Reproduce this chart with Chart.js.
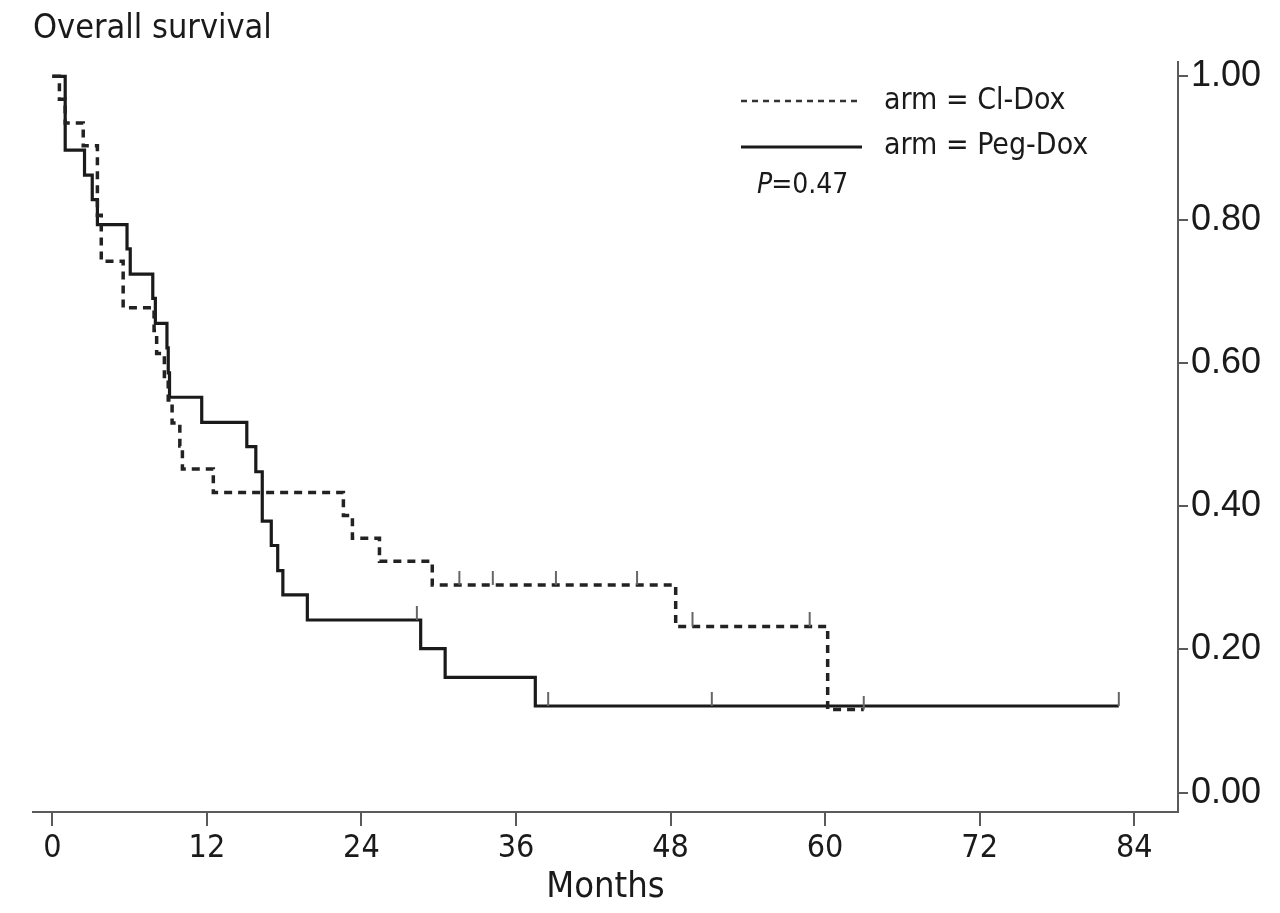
<!DOCTYPE html>
<html><head><meta charset="utf-8">
<script src="https://cdn.jsdelivr.net/npm/chart.js@4.4.1/dist/chart.umd.min.js"></script>
<style>html,body{margin:0;padding:0;background:#fff}#wrap{width:1280px;height:913px;position:relative}</style>
</head><body><div id="wrap"><canvas id="c" width="1280" height="913" style="width:1280px;height:913px"></canvas></div>
<script>
const chartTitle = "Overall survival";
const xAxisTitle = "Months";
const legendLabels = ["arm = Cl-Dox", "arm = Peg-Dox"];
const pValueLabel = ["P", "=0.47"];
const xTicks = [0, 12, 24, 36, 48, 60, 72, 84];
const yTicks = [0, 0.2, 0.4, 0.6, 0.8, 1.0];

const clDoxTimes = [0, 0.55, 1.0, 2.4, 3.5, 3.8, 5.5, 7.9, 8.1, 8.7, 9.0, 9.3, 9.9, 10.1, 12.5, 22.6, 23.3, 25.4, 29.5, 48.4, 60.2, 63.0];
const clDoxSurv  = [1, 0.968, 0.935, 0.903, 0.806, 0.742, 0.677, 0.645, 0.613, 0.581, 0.548, 0.516, 0.484, 0.452, 0.419, 0.387, 0.355, 0.323, 0.290, 0.232, 0.116, 0.116];
const clDoxCensorTimes = [31.6, 34.2, 39.1, 45.4, 49.7, 58.8, 63.0];
const clDoxCensorSurv  = [0.290, 0.290, 0.290, 0.290, 0.232, 0.232, 0.116];

const pegDoxTimes = [0, 1.0, 2.5, 3.1, 3.5, 5.8, 6.05, 7.8, 8.0, 8.9, 9.0, 9.1, 11.6, 15.1, 15.8, 16.3, 17.0, 17.5, 17.9, 19.8, 28.6, 30.5, 37.5, 82.8];
const pegDoxSurv  = [1, 0.897, 0.862, 0.828, 0.793, 0.759, 0.724, 0.690, 0.655, 0.621, 0.586, 0.552, 0.517, 0.483, 0.448, 0.379, 0.345, 0.310, 0.276, 0.241, 0.201, 0.161, 0.121, 0.121];
const pegDoxCensorTimes = [28.3, 38.5, 51.2, 82.8];
const pegDoxCensorSurv  = [0.241, 0.121, 0.121, 0.121];

const NARROW = "'DejaVu Sans Condensed', 'Liberation Sans Narrow', 'Liberation Sans', sans-serif";
const REG = "'Liberation Sans', Arial, sans-serif";
const INK = '#1a1a1a';
const AXIS = '#5a5a5a';

function pts(xs, ys) { return xs.map((x, i) => ({ x: x, y: ys[i] })); }
function censorMark(color) {
  const c = document.createElement('canvas');
  c.width = 4; c.height = 28;
  const g = c.getContext('2d');
  g.strokeStyle = color; g.lineWidth = 2;
  g.beginPath(); g.moveTo(2, 0); g.lineTo(2, 14); g.stroke();
  return c;
}
const mark = censorMark('#666');

const overlay = {
  id: 'overlay',
  afterDraw(chart) {
    const ctx = chart.ctx;
    ctx.save();
    ctx.fillStyle = INK;
    ctx.textBaseline = 'middle';
    ctx.textAlign = 'left';
    ctx.font = "34px " + NARROW;
    ctx.fillText(chartTitle, 33, 29);
    // legend
    ctx.strokeStyle = '#333';
    ctx.lineWidth = 2.5;
    ctx.setLineDash([6, 5]);
    ctx.beginPath(); ctx.moveTo(741, 101); ctx.lineTo(862, 101); ctx.stroke();
    ctx.setLineDash([]);
    ctx.strokeStyle = INK;
    ctx.lineWidth = 3;
    ctx.beginPath(); ctx.moveTo(741, 147); ctx.lineTo(862, 147); ctx.stroke();
    ctx.font = "30px " + NARROW;
    ctx.fillText(legendLabels[0], 884, 101);
    ctx.fillText(legendLabels[1], 884, 146);
    ctx.font = "italic 28px " + NARROW;
    ctx.fillText(pValueLabel[0], 757, 186);
    const w = ctx.measureText(pValueLabel[0]).width;
    ctx.font = "28px " + NARROW;
    ctx.fillText(pValueLabel[1], 757 + w - 1, 186);
    ctx.restore();
  }
};

new Chart(document.getElementById('c'), {
  type: 'line',
  data: {
    datasets: [
      { label: 'Cl-Dox censored', data: pts(clDoxCensorTimes, clDoxCensorSurv), showLine: false, pointStyle: mark, pointRadius: 14, borderWidth: 0 },
      { label: 'Peg-Dox censored', data: pts(pegDoxCensorTimes, pegDoxCensorSurv), showLine: false, pointStyle: mark, pointRadius: 14, borderWidth: 0 },
      { label: legendLabels[0], data: pts(clDoxTimes, clDoxSurv), stepped: 'before', borderColor: '#222', borderWidth: 3.5, borderDash: [8, 6], pointRadius: 0, fill: false },
      { label: legendLabels[1], data: pts(pegDoxTimes, pegDoxSurv), stepped: 'before', borderColor: INK, borderWidth: 3.2, pointRadius: 0, fill: false }
    ]
  },
  options: {
    responsive: false,
    animation: false,
    devicePixelRatio: 1,
    layout: { padding: { top: 62, left: 33, right: 0, bottom: 0 } },
    plugins: { legend: { display: false }, tooltip: { enabled: false }, title: { display: false } },
    scales: {
      x: {
        type: 'linear', min: -1.5, max: 87.4,
        afterBuildTicks: s => { s.ticks = xTicks.map(v => ({ value: v })); },
        afterFit: s => { s.height = 101; },
        grid: { drawOnChartArea: false, drawTicks: true, tickLength: 14, color: AXIS, lineWidth: 2 },
        border: { display: true, color: AXIS, width: 2 },
        ticks: { color: INK, font: { family: NARROW, size: 32 }, padding: 3, maxRotation: 0, autoSkip: false, callback: v => String(v) },
        title: { display: true, text: xAxisTitle, color: INK, font: { family: NARROW, size: 36 }, padding: { top: 0, bottom: 4 } }
      },
      y: {
        type: 'linear', position: 'right', min: -0.027, max: 1.02,
        afterBuildTicks: s => { s.ticks = yTicks.map(v => ({ value: v })); },
        afterFit: s => { s.width = 102; },
        grid: { drawOnChartArea: false, drawTicks: true, tickLength: 10, color: AXIS, lineWidth: 2 },
        border: { display: true, color: AXIS, width: 2 },
        ticks: { color: INK, font: { family: REG, size: 36 }, padding: 3, autoSkip: false, callback: v => v.toFixed(2) }
      }
    }
  },
  plugins: [overlay]
});
</script></body></html>
